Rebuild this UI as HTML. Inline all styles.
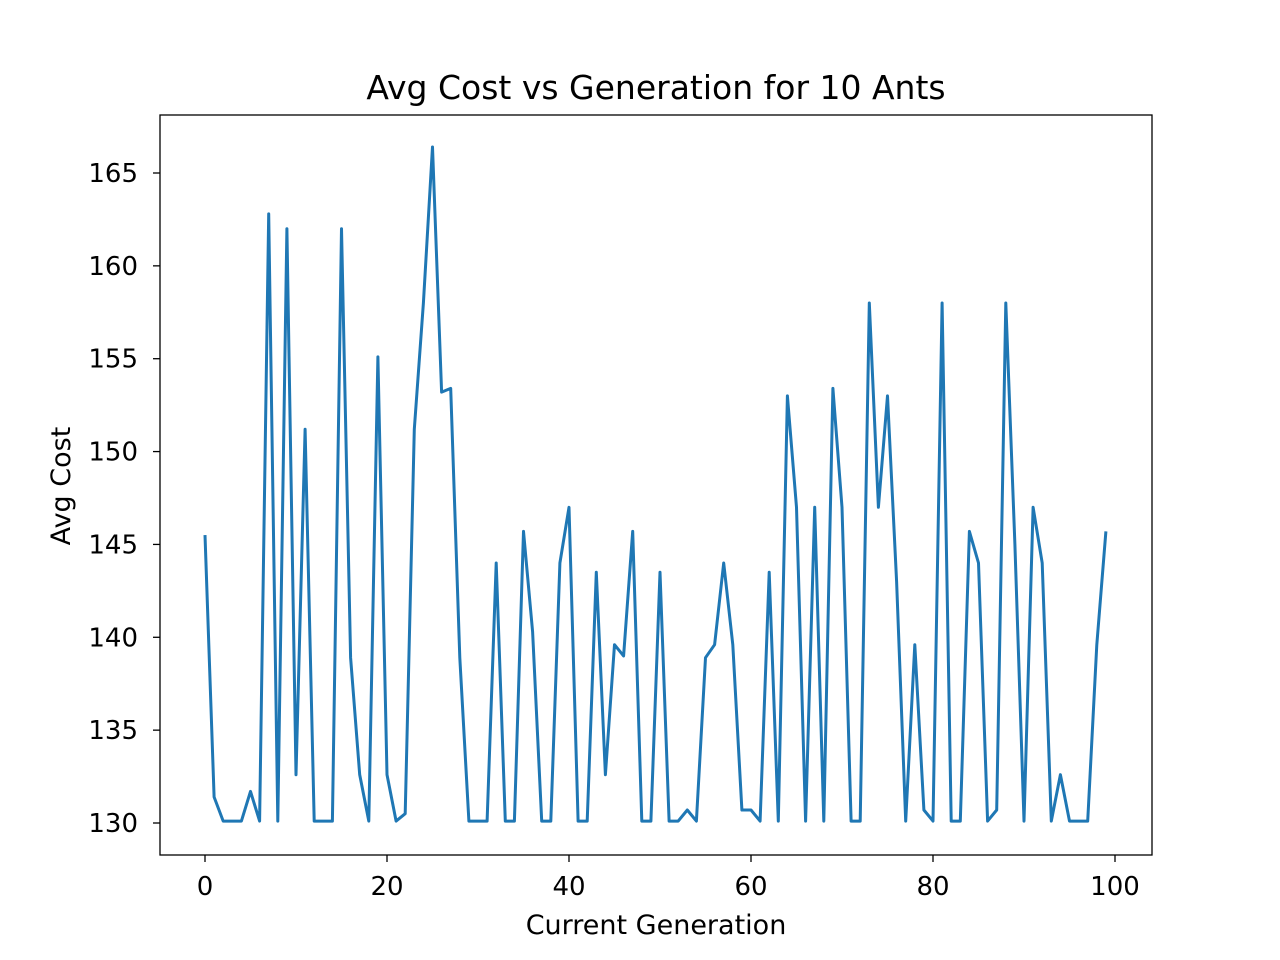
<!DOCTYPE html>
<html><head><meta charset="utf-8"><style>body{margin:0;background:#fff}svg{display:block}text{font-family:"DejaVu Sans","Liberation Sans",sans-serif;fill:#000}</style></head>
<body>
<svg id="chart" width="1280" height="960" viewBox="0 0 1280 960"></svg>
<script>
const generations = Array.from({length:100},(_, i)=>i);
const avgCost = [145.5,131.4,130.1,130.1,130.1,131.7,130.1,162.8,130.1,162,132.6,151.2,130.1,130.1,130.1,162,138.9,132.6,130.1,155.1,132.6,130.1,130.5,151.2,158,166.4,153.2,153.4,138.9,130.1,130.1,130.1,144,130.1,130.1,145.7,140.3,130.1,130.1,144,147,130.1,130.1,143.5,132.6,139.6,139,145.7,130.1,130.1,143.5,130.1,130.1,130.7,130.1,138.9,139.6,144,139.6,130.7,130.7,130.1,143.5,130.1,153,147,130.1,147,130.1,153.4,147,130.1,130.1,158,147,153,143,130.1,139.6,130.7,130.1,158,130.1,130.1,145.7,144,130.1,130.7,158,145,130.1,147,144,130.1,132.6,130.1,130.1,130.1,139.6,145.7];
const xTicks = [0,20,40,60,80,100];
const yTicks = [130,135,140,145,150,155,160,165];
const NS="http://www.w3.org/2000/svg";
const svg=document.getElementById('chart');
const L=160,R=1152,T=115,B=855;
const xs=v=>205+(v-0)*9.1;
const ys=v=>823-(v-130)*(650/35);
function mk(tag,attrs,parent){const e=document.createElementNS(NS,tag);for(const k in attrs)e.setAttribute(k,attrs[k]);(parent||svg).appendChild(e);return e;}
let t=mk('text',{x:656,y:99,'font-size':33,'text-anchor':'middle'});t.textContent='Avg Cost vs Generation for 10 Ants';


let d=avgCost.map((v,i)=>(i?'L':'M')+xs(generations[i]).toFixed(1)+','+ys(v).toFixed(1)).join('');
let p=mk('path',{d:d,fill:'none',stroke:'#1f77b4','stroke-width':3,'stroke-linejoin':'round'});


let f=mk('rect',{x:L,y:T,width:R-L,height:B-T,fill:'none',stroke:'#000','stroke-width':1.3});


xTicks.forEach(v=>{const x=xs(v);mk('line',{x1:x,x2:x,y1:B,y2:B+7,stroke:'#000','stroke-width':1.3});
 const tx=mk('text',{x:x,y:B+40,'font-size':26,'text-anchor':'middle'});tx.textContent=v;
 
 });
yTicks.forEach(v=>{const y=ys(v);mk('line',{x1:L-7,x2:L,y1:y,y2:y,stroke:'#000','stroke-width':1.3});
 const ty=mk('text',{x:L-22,y:y+9,'font-size':26,'text-anchor':'end'});ty.textContent=v;
 
 });
let xl=mk('text',{x:656,y:934,'font-size':27,'text-anchor':'middle'});xl.textContent='Current Generation';


let yl=mk('text',{x:0,y:0,'font-size':27,'text-anchor':'middle',transform:'translate(70,486) rotate(-90)'});yl.textContent='Avg Cost';


</script>
</body></html>
